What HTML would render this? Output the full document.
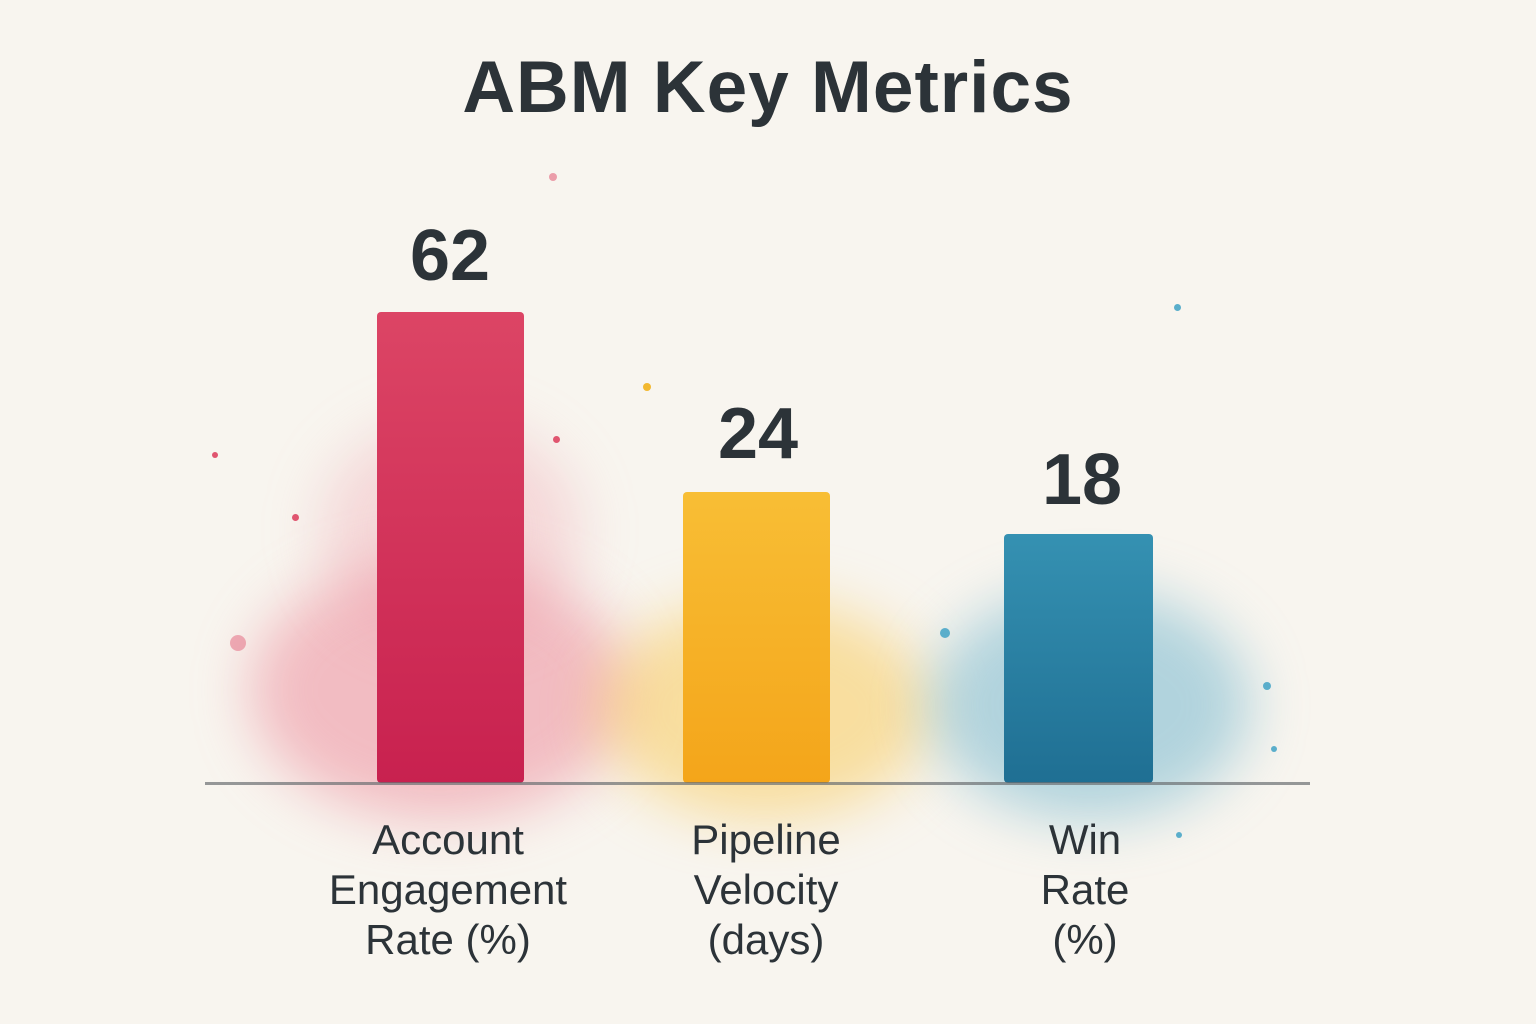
<!DOCTYPE html>
<html><head><meta charset="utf-8"><style>
html,body{margin:0;padding:0}
body{width:1536px;height:1024px;background:#f8f5ef;position:relative;overflow:hidden;font-family:"Liberation Sans",sans-serif;color:#2c3338}
.t{position:absolute;left:0;width:1536px;text-align:center}
.blob{position:absolute;border-radius:50%;filter:blur(28px)}
.bar{position:absolute;border-radius:4px}
.v{position:absolute;font-weight:bold;font-size:72px;text-align:center;width:200px}
.lab{position:absolute;font-size:42px;line-height:50px;text-align:center;width:340px}
.d{position:absolute;border-radius:50%}
</style></head><body>
<div class="t" style="top:46px;font-size:73px;font-weight:bold;letter-spacing:1px">ABM Key Metrics</div>

<div class="blob" style="left:250px;top:560px;width:380px;height:260px;background:rgba(236,120,140,0.45)"></div>
<div class="blob" style="left:320px;top:420px;width:260px;height:220px;background:rgba(240,150,165,0.3)"></div>
<div class="blob" style="left:600px;top:600px;width:330px;height:220px;background:rgba(250,200,80,0.5)"></div>
<div class="blob" style="left:930px;top:590px;width:320px;height:230px;background:rgba(90,170,200,0.45)"></div>

<div class="d" style="left:230px;top:635px;width:16px;height:16px;background:rgba(230,120,140,.6)"></div>
<div class="d" style="left:292px;top:514px;width:7px;height:7px;background:#e0556f"></div>
<div class="d" style="left:212px;top:452px;width:6px;height:6px;background:#e0556f"></div>
<div class="d" style="left:549px;top:173px;width:8px;height:8px;background:rgba(230,120,140,.7)"></div>
<div class="d" style="left:553px;top:436px;width:7px;height:7px;background:#e0556f"></div>
<div class="d" style="left:643px;top:383px;width:8px;height:8px;background:#f2b830"></div>
<div class="d" style="left:1174px;top:304px;width:7px;height:7px;background:#5aaecb"></div>
<div class="d" style="left:940px;top:628px;width:10px;height:10px;background:#5aaecb"></div>
<div class="d" style="left:1263px;top:682px;width:8px;height:8px;background:#5aaecb"></div>
<div class="d" style="left:1271px;top:746px;width:6px;height:6px;background:#5aaecb"></div>
<div class="d" style="left:1176px;top:832px;width:6px;height:6px;background:#5aaecb"></div>

<div class="bar" style="left:377px;top:312px;width:147px;height:471px;background:linear-gradient(#dc4565,#c8214f)"></div>
<div class="bar" style="left:683px;top:492px;width:147px;height:291px;background:linear-gradient(#f8be35,#f4a51a)"></div>
<div class="bar" style="left:1004px;top:534px;width:149px;height:249px;background:linear-gradient(#3591b2,#1f6f93)"></div>

<div style="position:absolute;left:205px;top:782px;width:1105px;height:3px;background:#6b6f72;opacity:.7"></div>

<div class="v" style="left:350px;top:215px">62</div>
<div class="v" style="left:658px;top:393px">24</div>
<div class="v" style="left:982px;top:439px">18</div>

<div class="lab" style="left:278px;top:815px">Account<br>Engagement<br>Rate (%)</div>
<div class="lab" style="left:596px;top:815px">Pipeline<br>Velocity<br>(days)</div>
<div class="lab" style="left:915px;top:815px">Win<br>Rate<br>(%)</div>
</body></html>
